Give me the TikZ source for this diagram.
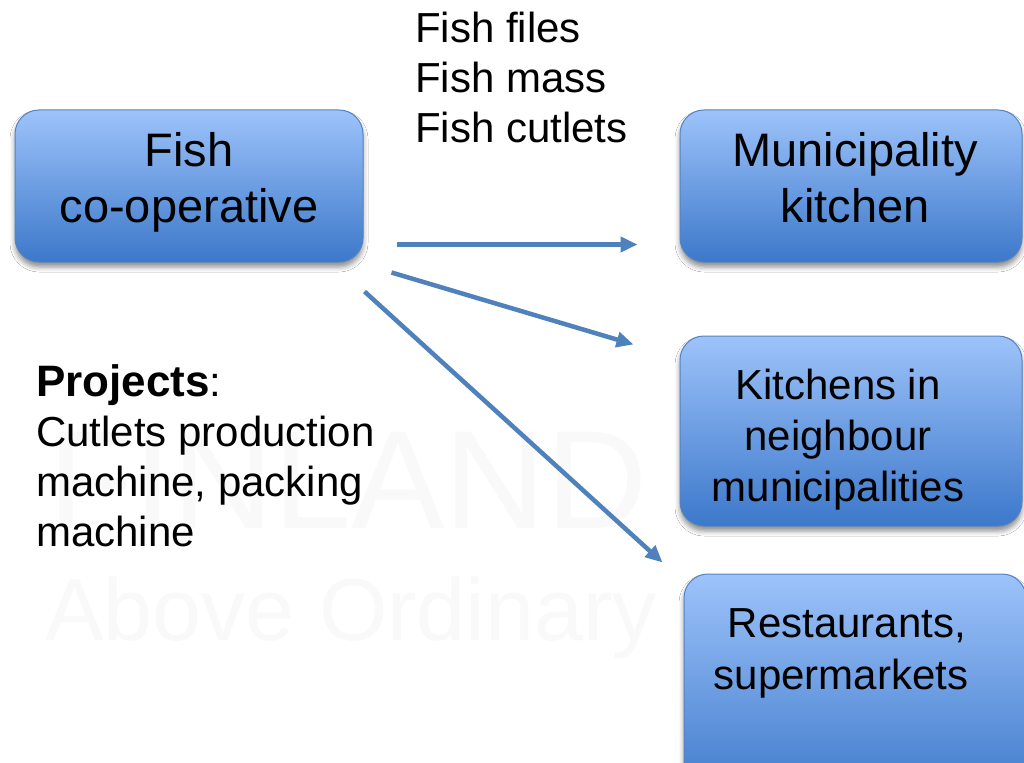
\documentclass[tikz,border=0pt]{standalone}
\usepackage{fontspec}
\setmainfont{Liberation Sans}
\usetikzlibrary{shadows.blur,arrows.meta,calc}
\definecolor{boxtop}{RGB}{157,195,250}
\definecolor{boxbot}{RGB}{60,120,202}
\definecolor{boxline}{RGB}{86,131,194}
\definecolor{arrowc}{RGB}{79,129,189}
\definecolor{ghost}{RGB}{249,249,249}
\begin{document}
\begin{tikzpicture}[x=1pt,y=-1pt,
  box/.style={rounded corners=24pt, top color=boxtop, bottom color=boxbot,
    draw=boxline, line width=1pt,
    blur shadow={shadow xshift=0pt, shadow yshift=-5pt, shadow blur radius=5pt, shadow opacity=45},
    inner sep=0pt},
  flow/.style={draw=arrowc, line width=4.5pt, -{Triangle[length=17pt,width=15pt]}},
  bigtxt/.style={font=\fontsize{47}{56}\selectfont, align=center, inner sep=0pt},
  midtxt/.style={font=\fontsize{42}{51}\selectfont, align=center, inner sep=0pt},
  plain/.style={font=\fontsize{42}{50}\selectfont, align=left, inner sep=0pt},
  ghosttxt/.style={text=ghost, inner sep=0pt},
  ]
\useasboundingbox (0,0) rectangle (1024,762);
\fill[white] (0,0) rectangle (1024,762);

% watermark
\node[ghosttxt, anchor=base west, font=\fontsize{140}{140}\selectfont] (wmA) at (48,528) {FINLAND};
\node[ghosttxt, anchor=base west, font=\fontsize{88}{88}\selectfont] (wmB) at (45,640) {Above Ordinary};

% boxes
\node[box, minimum width=348pt, minimum height=152pt] (fish) at (189,186) {};
\node[bigtxt] (fishtxt) at (189,182) {Fish\\co-operative};

\node[box, minimum width=342pt, minimum height=152pt] (muni) at (851,186) {};
\node[bigtxt] (munitxt) at (855,178) {Municipality\\kitchen};

\node[box, minimum width=342pt, minimum height=190pt] (kitch) at (851,431) {};
\node[midtxt] (kitchtxt) at (838,440) {Kitchens in\\neighbour\\municipalities};

\node[box, minimum width=342pt, minimum height=232pt] (rest) at (855,690) {};
\node[midtxt, font=\fontsize{42}{52}\selectfont] (resttxt) at (841,653) {\ Restaurants,\\supermarkets};

% free texts
\node[plain, anchor=north west] (prod) at (415,12) {Fish files\\Fish mass\\Fish cutlets};
\node[plain, anchor=north west] (proj) at (36,364) {{\fontsize{44}{50}\selectfont\bfseries Projects}:\\Cutlets production\\machine, packing\\machine};

% arrows
\coordinate (a1s) at ($(fish.south east)+(33,-18)$);
\coordinate (a1e) at ($(muni.south west)+(-42,-18)$);
\coordinate (a2s) at ($(fish.south east)+(28,10)$);
\coordinate (a2e) at ($(kitch.north west)+(-46,9)$);
\coordinate (a3s) at ($(fish.south east)+(1,29)$);
\coordinate (a3e) at ($(rest.north west)+(-21,-11)$);
\draw[flow] (a1s) -- (a1e);
\draw[flow] (a2s) -- (a2e);
\draw[flow] (a3s) -- (a3e);
\end{tikzpicture}
\end{document}
